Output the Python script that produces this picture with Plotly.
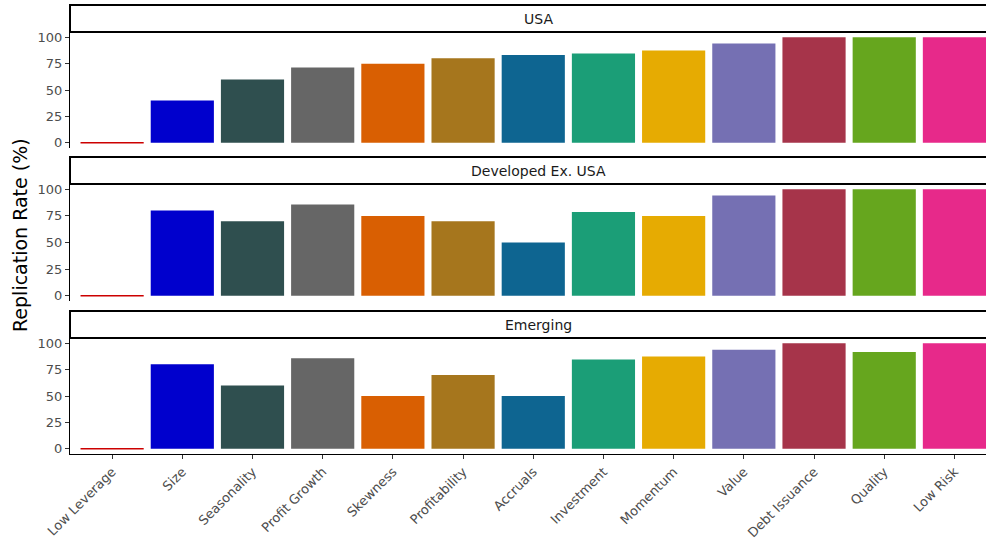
import plotly.graph_objects as go

# Factor categories, in display order
categories = ["Low Leverage", "Size", "Seasonality", "Profit Growth", "Skewness",
              "Profitability", "Accruals", "Investment", "Momentum", "Value",
              "Debt Issuance", "Quality", "Low Risk"]

# Replication rate (%) per region
usa = [0, 40, 60, 71.4, 75, 80, 83.3, 84.6, 87.5, 94.1, 100, 100, 100]
developed_ex_usa = [0, 80, 70, 85.7, 75, 70, 50, 78.6, 75, 94.1, 100, 100, 100]
emerging = [0, 80, 60, 85.7, 50, 70, 50, 84.6, 87.5, 93.8, 100, 91.7, 100]

regions = ["USA", "Developed Ex. USA", "Emerging"]
region_values = [usa, developed_ex_usa, emerging]

colors = ["#CC0000", "#0000CD", "#2F4F4F", "#666666", "#D95F02", "#A6761D",
          "#0E6591", "#1B9E77", "#E6AB02", "#7570B3", "#A6344A", "#66A61E", "#E7298A"]

positions = list(range(len(categories)))
BAR_W = 0.9

W, H = 986, 541
ML, MB = 70, 87
paper_h = H - MB
paper_w = W - ML

def py(pix):
    """Convert a pixel row (from top) to paper y fraction."""
    return (paper_h - pix) / paper_h

# panel layout in pixels: (strip_top, plot_top, plot_bottom)
panels = [(5, 32, 148), (157, 184, 301), (311, 338, 454)]

FONT = "DejaVu Sans, Liberation Sans, sans-serif"
TICK_COLOR = "#4D4D4D"

fig = go.Figure()

for i, (name, vals) in enumerate(zip(regions, region_values)):
    xa = "x" if i == 0 else f"x{i+1}"
    ya = "y" if i == 0 else f"y{i+1}"
    fig.add_trace(go.Bar(
        x=positions, y=vals,
        marker=dict(color=colors, line=dict(width=0)),
        xaxis=xa, yaxis=ya, showlegend=False, width=BAR_W,
    ))
    # zero-valued factors appear as a thin line at the baseline
    for j, v in enumerate(vals):
        if v == 0:
            fig.add_trace(go.Scatter(
                x=[positions[j] - BAR_W / 2, positions[j] + BAR_W / 2], y=[v, v],
                mode="lines", line=dict(color=colors[j], width=1.5),
                xaxis=xa, yaxis=ya, showlegend=False, hoverinfo="skip",
            ))

layout = dict(
    width=W, height=H,
    margin=dict(l=ML, r=0, t=0, b=MB),
    plot_bgcolor="white", paper_bgcolor="white",
    font=dict(family=FONT, size=13, color=TICK_COLOR),
)

shapes = []
annotations = []
for i, (st, pt, pb) in enumerate(panels):
    sfx = "" if i == 0 else str(i + 1)
    last = i == len(panels) - 1
    layout["xaxis" + sfx] = dict(
        domain=[0, 1], anchor="y" + sfx, automargin=False,
        range=[-0.6, 12.45],
        tickmode="array", tickvals=positions, ticktext=categories,
        showticklabels=last, ticks="outside" if last else "",
        ticklen=4, tickcolor="#333333", tickwidth=1,
        tickangle=-45, tickfont=dict(size=13, color=TICK_COLOR, family=FONT),
        showline=last, linecolor="black", linewidth=1.2,
        showgrid=False, zeroline=False, fixedrange=True,
    )
    layout["yaxis" + sfx] = dict(
        domain=[py(pb), py(pt)], anchor="x" + sfx, automargin=False,
        range=[-5, 105], tickvals=[0, 25, 50, 75, 100],
        ticks="outside", ticklen=4, tickcolor="#333333", tickwidth=1,
        tickfont=dict(size=13, color=TICK_COLOR, family=FONT),
        showline=True, linecolor="black", linewidth=1.2,
        showgrid=False, zeroline=False, fixedrange=True,
    )
    # facet strip box
    shapes.append(dict(
        type="rect", xref="paper", yref="paper",
        x0=0, x1=1.02, y0=py(pt), y1=py(st),
        line=dict(color="black", width=2), fillcolor="white", layer="above",
    ))
    annotations.append(dict(
        text=regions[i], xref="paper", yref="paper",
        x=(538 - ML) / paper_w, y=(py(pt) + py(st)) / 2,
        xanchor="center", yanchor="middle",
        showarrow=False, font=dict(size=14, color="#1A1A1A", family=FONT),
    ))

annotations.append(dict(
    text="Replication Rate (%)", xref="paper", yref="paper",
    x=(20 - ML) / paper_w, y=py(235), xanchor="center", yanchor="middle",
    textangle=-90, showarrow=False, font=dict(size=19, color="black", family=FONT),
))

layout["shapes"] = shapes
layout["annotations"] = annotations
fig.update_layout(**layout)

fig.write_html("out.html")
